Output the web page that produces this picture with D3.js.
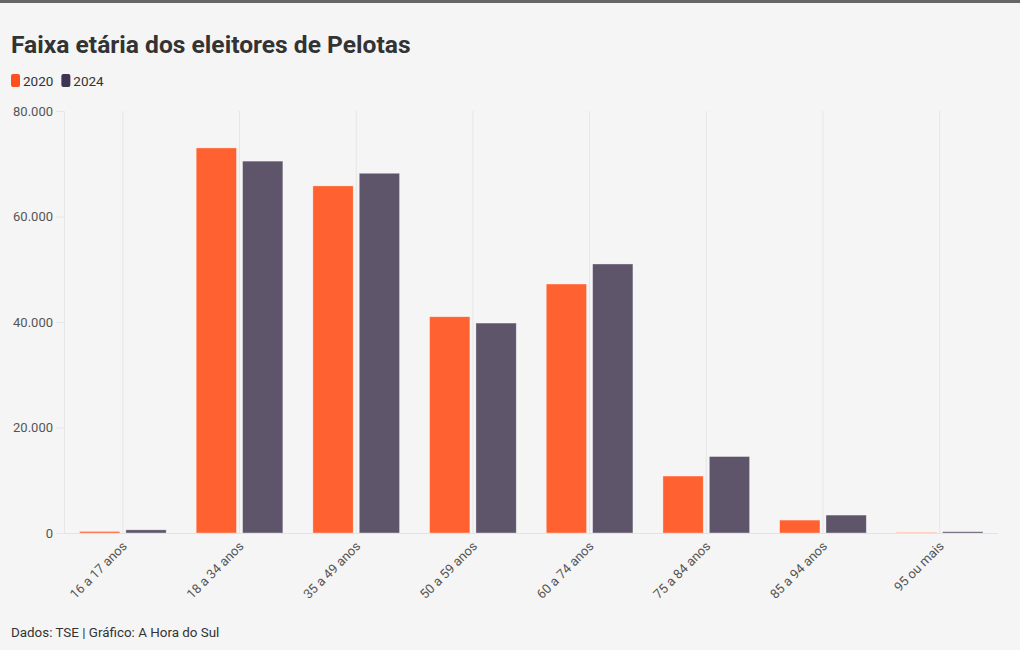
<!DOCTYPE html>
<html><head><meta charset="utf-8">
<script src="https://cdn.jsdelivr.net/npm/d3@7"></script>
<style>
html,body{margin:0;padding:0;background:#f5f5f5;}
svg{display:block;font-family:Roboto,"Noto Sans",sans-serif;}
</style></head>
<body><svg id="chart" width="1020" height="650"></svg>
<script>
const categories = ["16 a 17 anos","18 a 34 anos","35 a 49 anos","50 a 59 anos","60 a 74 anos","75 a 84 anos","85 a 94 anos","95 ou mais"];
const seriesNames = ["2020","2024"];
const values2020 = [300, 73000, 65800, 41000, 47200, 10800, 2450, 100];
const values2024 = [600, 70500, 68200, 39800, 51000, 14500, 3400, 250];
const yTicks = [0, 20000, 40000, 60000, 80000];
const title = "Faixa etária dos eleitores de Pelotas";
const footer = "Dados: TSE | Gráfico: A Hora do Sul";

const barColors = ["#ff6130","#5f556a"];
const legendColors = ["#ff4f1c","#3f3452"];

const svg = d3.select("#chart");
svg.append("rect").attr("x",0).attr("y",0).attr("width",1020).attr("height",650).attr("fill","#f5f5f5");
svg.append("rect").attr("x",0).attr("y",0).attr("width",1020).attr("height",3).attr("fill","#666");

svg.append("text").attr("x",11).attr("y",53).text(title)
  .attr("font-size",24.6).attr("font-weight",700).attr("fill","#333");

// legend
const lg = svg.append("g");
let lx = 11;
seriesNames.forEach((s,i)=>{
  lg.append("rect").attr("x",lx).attr("y",74).attr("width",9).attr("height",13).attr("rx",2).attr("fill",legendColors[i]);
  const t = lg.append("text").attr("x",lx+12).attr("y",86).text(s).attr("font-size",13.5).attr("fill","#333");
  lx += 12 + t.node().getComputedTextLength() + 8;
});

const x0 = d3.scaleBand().domain(categories).range([64.5, 998]).paddingInner(0).paddingOuter(0);
const x1 = d3.scaleBand().domain(seriesNames).range([15, x0.bandwidth()-15]).paddingInner(0.13);
const y = d3.scaleLinear().domain([0, 80000]).range([533, 111]);

const fmt = v => d3.format(",")(v).replace(/,/g,".");

// vertical gridlines at category centers
svg.append("g").selectAll("line").data(categories).join("line")
  .attr("x1",d=>x0(d)+x0.bandwidth()/2).attr("x2",d=>x0(d)+x0.bandwidth()/2)
  .attr("y1",111).attr("y2",533).attr("stroke","#e6e6e6").attr("stroke-width",1);

// y axis
const yAxis = svg.append("g").attr("transform","translate(64,0)")
  .call(d3.axisLeft(y).tickValues(yTicks).tickSize(8).tickPadding(3).tickFormat(fmt));
yAxis.select(".domain").attr("stroke","#e6e6e6");
yAxis.selectAll(".tick line").attr("stroke","#e6e6e6");
yAxis.selectAll(".tick text").attr("font-size",13).attr("fill","#555").attr("font-family","Roboto");

// bars
const data = categories.map((c,i)=>({c, vals:[values2020[i], values2024[i]]}));
const groups = svg.append("g").selectAll("g").data(data).join("g")
  .attr("transform",d=>`translate(${x0(d.c)},0)`);
groups.selectAll("rect").data(d=>d.vals.map((v,i)=>({s:seriesNames[i], v, i})))
  .join("rect")
  .attr("x",d=>x1(d.s)).attr("width",x1.bandwidth())
  .attr("y",d=>y(d.v)).attr("height",d=>y(0)-y(d.v))
  .attr("fill",d=>barColors[d.i])
  .attr("stroke","#ffffff").attr("stroke-opacity",0.5).attr("stroke-width",0.7);

// baseline
svg.append("line").attr("x1",64).attr("x2",998).attr("y1",533.5).attr("y2",533.5).attr("stroke","#e3e3e3");

// x axis labels
const xAxis = svg.append("g").attr("transform","translate(0,533)")
  .call(d3.axisBottom(x0).tickSize(0).tickPadding(0));
xAxis.select(".domain").remove();
xAxis.selectAll(".tick text")
  .attr("font-size",13).attr("fill","#555").attr("font-family","Roboto")
  .attr("text-anchor","end").attr("dy",0)
  .attr("transform","translate(5,14) rotate(-45)");

svg.append("text").attr("x",11).attr("y",637).text(footer).attr("font-size",13.4).attr("fill","#333");
</script></body></html>
